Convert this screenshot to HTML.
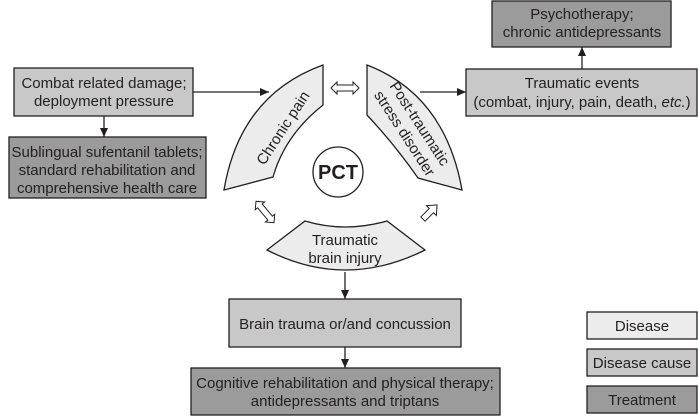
<!DOCTYPE html>
<html><head><style>body{margin:0;background:#fff}svg{display:block}text{font-family:"Liberation Sans",sans-serif;fill:#231f20}</style></head><body>
<svg width="698" height="416" viewBox="0 0 698 416" xmlns="http://www.w3.org/2000/svg">
<defs><marker id="a" markerWidth="10" markerHeight="10" refX="9" refY="5" orient="auto" markerUnits="userSpaceOnUse"><path d="M0,1 L9,5 L0,9 z" fill="#231f20"/></marker></defs>
<g stroke="#231f20" stroke-width="1.3">
<rect x="14" y="68" width="179" height="48" fill="#c8c8c8"/>
<rect x="9" y="137" width="197" height="61" fill="#9b9b9b"/>
<rect x="492" y="1" width="179" height="46" fill="#9b9b9b"/>
<rect x="466" y="69" width="231" height="47" fill="#c8c8c8"/>
<rect x="229" y="299" width="232" height="48" fill="#c8c8c8"/>
<rect x="191" y="368" width="309" height="47" fill="#9b9b9b"/>
<rect x="587" y="312" width="110" height="27" fill="#ececec"/>
<rect x="587" y="349" width="110" height="27" fill="#c8c8c8"/>
<rect x="587" y="386" width="110" height="27" fill="#9b9b9b"/>
<path d="M323,65 L323,105 Q285,135 273,177 L224,190 Q240,95 323,65 z" fill="#ececec"/>
<path d="M367,65 L367,115 Q395,145 418,178 L462,190 Q445,95 367,65 z" fill="#ececec"/>
<path d="M305,221 Q345,233 387,221 L425,250 Q345,290 267,250 z" fill="#ececec"/>
<circle cx="338" cy="172" r="25" fill="#fff"/>
<g fill="none"><line x1="193" y1="92" x2="269" y2="92" marker-end="url(#a)"/>
<line x1="104" y1="116" x2="104" y2="137" marker-end="url(#a)"/>
<line x1="420" y1="92" x2="466" y2="92" marker-end="url(#a)"/>
<line x1="582" y1="69" x2="582" y2="47" marker-end="url(#a)"/>
<line x1="345" y1="272" x2="345" y2="299" marker-end="url(#a)"/>
<line x1="345" y1="347" x2="345" y2="368" marker-end="url(#a)"/></g>
<g fill="#fff" stroke-width="1">
<path d="M331,88 l6,-6 v3 h16 v-3 l6,6 l-6,6 v-3 h-16 v3 z"/>
<g transform="translate(265,212) rotate(50)"><path d="M-14,0 l6,-6 v3 h16 v-3 l6,6 l-6,6 v-3 h-16 v3 z"/></g>
<g transform="translate(430,212) rotate(-45)"><path d="M-10,-3 h12 v-4 l8,7 l-8,7 v-4 h-12 z"/></g>
</g></g>
<g font-size="15" text-anchor="middle">
<text x="104" y="88">Combat related damage;</text><text x="104" y="106">deployment pressure</text>
<text x="107" y="157">Sublingual sufentanil tablets;</text><text x="107" y="175">standard rehabilitation and</text><text x="107" y="193">comprehensive health care</text>
<text x="582" y="19">Psychotherapy;</text><text x="582" y="37">chronic antidepressants</text>
<text x="582" y="88">Traumatic events</text><text x="582" y="107">(combat, injury, pain, death, <tspan font-style="italic">etc.</tspan>)</text>
<text x="345" y="329">Brain trauma or/and concussion</text>
<text x="345" y="388">Cognitive rehabilitation and physical therapy;</text><text x="345" y="406">antidepressants and triptans</text>
<text x="642" y="331">Disease</text><text x="642" y="368">Disease cause</text><text x="642" y="405">Treatment</text>
<text x="345" y="245">Traumatic</text><text x="345" y="263">brain injury</text>
<text transform="translate(283,128) rotate(-57)" y="5">Chronic pain</text>
<text transform="translate(413,128) rotate(57)" y="-3">Post-traumatic</text>
<text transform="translate(413,128) rotate(57)" y="15">stress disorder</text>
<text x="338" y="179" font-size="20" font-weight="bold">PCT</text>
</g>
</svg>
</body></html>
